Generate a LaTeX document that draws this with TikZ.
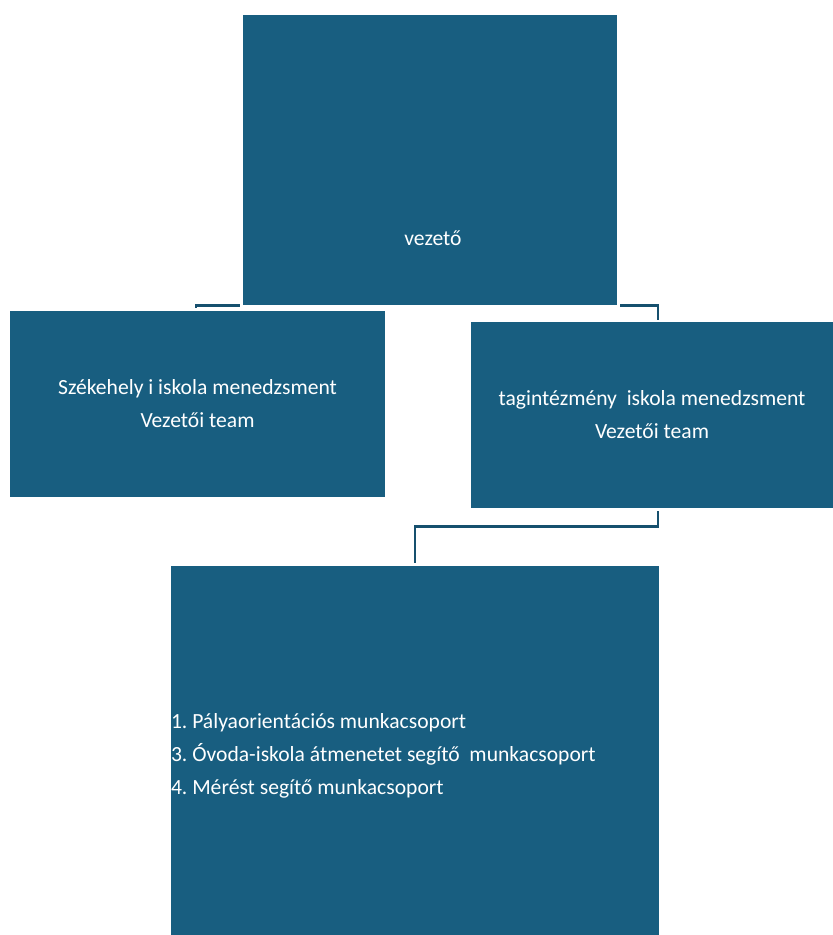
\documentclass[tikz,border=0pt]{standalone}
\usepackage{fontspec}
\setmainfont{Carlito}
\frenchspacing
\definecolor{orgblue}{RGB}{24,94,128}
\definecolor{orgline}{RGB}{22,80,110}

\begin{document}
\begin{tikzpicture}[x=0.5pt, y=-0.5pt,
	every node/.style={font=\fontsize{10.8}{16.5}\selectfont, text=white},
	unit/.style={fill=orgblue, inner sep=0pt, align=center},
	link/.style={draw=orgline, line width=1.3pt}]
	\useasboundingbox (0,0) rectangle (833,935);
	% boxes
	\node[unit, minimum width=187pt, minimum height=145pt] (vez) at (430,160) {};
	\node (vezlbl) at (433,238) {vezető};
	\node[unit, minimum width=187.5pt, minimum height=93pt] (szek) at (197.5,404)
		{Székehely i iskola menedzsment\\Vezetői team};
	\node[unit, minimum width=181pt, minimum height=93pt] (tag) at (652,415)
		{tagintézmény\ \ iskola menedzsment\\Vezetői team};
	\node[unit, align=flush left, text width=244pt, minimum height=189.5pt] (munka) at (415,755.5)
		{1. Pályaorientációs munkacsoport\\3. Óvoda-iskola átmenetet segítő\ \ munkacsoport\\4. Mérést segítő munkacsoport};
	% connectors
	\draw[link] ([xshift=-1.5pt]vez.south west) -| ([xshift=-0.75pt,yshift=1.5pt]szek.north);
	\draw[link] ([xshift=1.5pt]vez.south east) -| ([xshift=3pt,yshift=1pt]tag.north);
	\draw[link] ([xshift=3pt,yshift=-1.5pt]tag.south) -- ++(0,15) -| ([yshift=1.5pt]munka.north);
\end{tikzpicture}
\end{document}
